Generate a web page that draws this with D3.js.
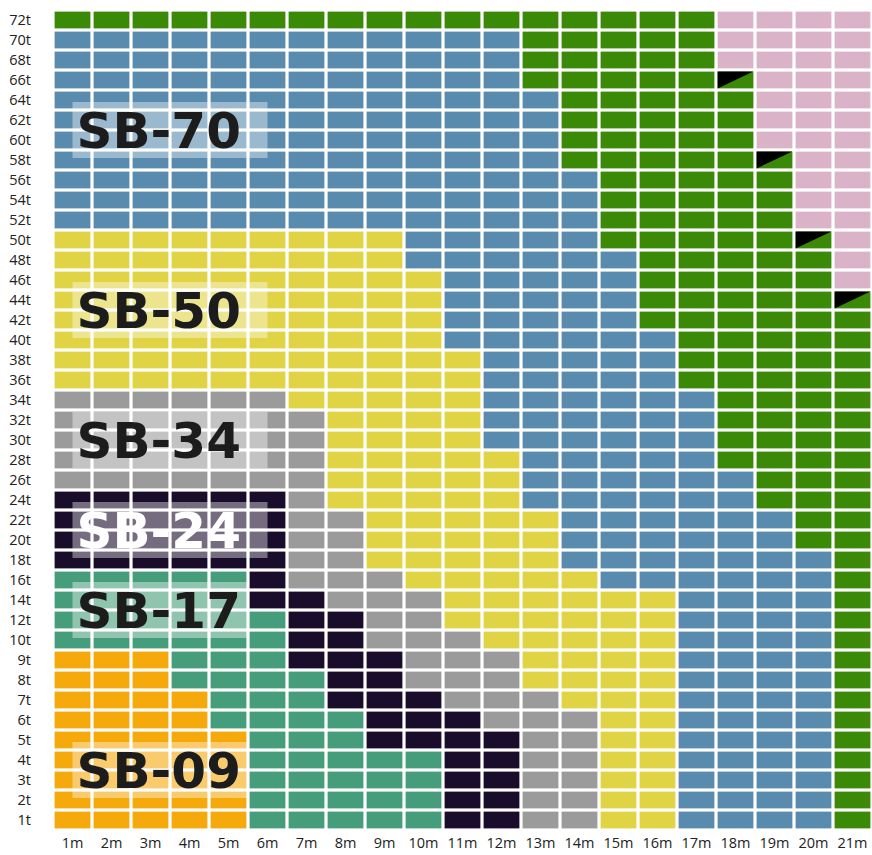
<!DOCTYPE html>
<html>
<head>
<meta charset="utf-8">
<script src="https://cdn.jsdelivr.net/npm/d3@7"></script>
<style>
  body { margin: 0; background: #fff; }
  .tick text { font-family: "Open Sans", sans-serif; font-size: 14.5px; fill: #222; }
</style>
</head>
<body>
<svg id="chart" width="872" height="855"></svg>
<script>
// radius columns and load rows
const radii = ["1m", "2m", "3m", "4m", "5m", "6m", "7m", "8m", "9m", "10m", "11m",
  "12m", "13m", "14m", "15m", "16m", "17m", "18m", "19m", "20m", "21m"];
const loads = ["1t", "2t", "3t", "4t", "5t", "6t", "7t", "8t", "9t", "10t", "12t", "14t",
  "16t", "18t", "20t", "22t", "24t", "26t", "28t", "30t", "32t", "34t", "36t", "38t",
  "40t", "42t", "44t", "46t", "48t", "50t", "52t", "54t", "56t", "58t", "60t", "62t",
  "64t", "66t", "68t", "70t", "72t"];

// max load (t) each model reaches at each radius (0 = none)
const sb09 = [9, 9, 9, 7, 5, 0, 0, 0, 0, 0, 0, 0, 0, 0, 0, 0, 0, 0, 0, 0, 0];
const sb17 = [16, 16, 16, 16, 16, 12, 8, 6, 4, 4, 0, 0, 0, 0, 0, 0, 0, 0, 0, 0, 0];
const sb24 = [24, 24, 24, 24, 24, 24, 14, 12, 9, 7, 6, 5, 0, 0, 0, 0, 0, 0, 0, 0, 0];
const sb34 = [34, 34, 34, 34, 34, 34, 32, 22, 16, 14, 10, 9, 7, 6, 0, 0, 0, 0, 0, 0, 0];
const sb50 = [50, 50, 50, 50, 50, 50, 50, 50, 50, 46, 38, 28, 22, 16, 14, 14, 0, 0, 0, 0, 0];
const sb70 = [70, 70, 70, 70, 70, 70, 70, 70, 70, 70, 70, 70, 64, 56, 48, 40, 34, 26, 22, 18, 0];
const topModel = [72, 72, 72, 72, 72, 72, 72, 72, 72, 72, 72, 72, 72, 72, 72, 72, 72, 66, 58, 50, 44];

// cells with the black corner mark
const flagged = [["18m", "66t"], ["19m", "58t"], ["20m", "50t"], ["21m", "44t"]];

const models = [
  { name: "SB-09", cap: sb09, color: "#f5a90a" },
  { name: "SB-17", cap: sb17, color: "#459d7b" },
  { name: "SB-24", cap: sb24, color: "#1a0d2b" },
  { name: "SB-34", cap: sb34, color: "#9b9b9b" },
  { name: "SB-50", cap: sb50, color: "#e0d444" },
  { name: "SB-70", cap: sb70, color: "#588bad" },
  { name: "", cap: topModel, color: "#3b8a07" }
];
const outOfRange = "#dbb3c9";

const svg = d3.select("#chart");
const x = d3.scaleBand().domain(radii).range([53, 872]);
const y = d3.scaleBand().domain(loads.slice().reverse()).range([10, 830]);

// build the cell table
const cells = [];
radii.forEach((r, i) => {
  loads.forEach((l) => {
    const t = parseFloat(l);
    const m = models.find((d) => d.cap[i] >= t);
    cells.push({ r, l, color: m ? m.color : outOfRange });
  });
});

const gap = 1.6;
svg.append("g")
  .selectAll("rect")
  .data(cells)
  .join("rect")
  .attr("x", (d) => x(d.r) + gap)
  .attr("y", (d) => y(d.l) + gap)
  .attr("width", x.bandwidth() - 2 * gap)
  .attr("height", y.bandwidth() - 2 * gap)
  .attr("fill", (d) => d.color);

// black corner triangles
svg.append("g")
  .selectAll("path")
  .data(flagged)
  .join("path")
  .attr("d", ([r, l]) => {
    const x0 = x(r) + gap, y0 = y(l) + gap;
    const w = x.bandwidth() - 2 * gap, h = y.bandwidth() - 2 * gap;
    return `M${x0},${y0}L${x0 + w},${y0}L${x0},${y0 + h}Z`;
  })
  .attr("fill", "#000");

// axes
svg.append("g")
  .attr("transform", "translate(53,0)")
  .call(d3.axisLeft(y).tickSize(0).tickPadding(22))
  .call((g) => g.select(".domain").remove());

svg.append("g")
  .attr("transform", "translate(0,830)")
  .call(d3.axisBottom(x).tickSize(0).tickPadding(8))
  .call((g) => g.select(".domain").remove());

// model labels: [name, right-edge column, rows the box is centred between]
const labelSpots = [
  ["SB-70", "6m", "62t", "60t"],
  ["SB-50", "6m", "44t", "42t"],
  ["SB-34", "6m", "30t", "30t"],
  ["SB-24", "6m", "22t", "20t"],
  ["SB-17", "5m", "14t", "12t"],
  ["SB-09", "5m", "4t", "3t"]
];

const lab = svg.append("g");
labelSpots.forEach(([name, rightCol, rowA, rowB]) => {
  const cy = (y(rowA) + y(rowB) + y.bandwidth()) / 2;
  const x0 = x("1m") + x.bandwidth() / 2;
  const x1 = rightCol === "6m" ? x("6m") + x.bandwidth() / 2 : x(rightCol) + x.bandwidth() - 1;
  lab.append("rect")
    .attr("x", x0)
    .attr("y", cy - 28)
    .attr("width", x1 - x0)
    .attr("height", 56)
    .attr("fill", "#fff")
    .attr("fill-opacity", 0.4);
  lab.append("text")
    .attr("x", x0 + 4)
    .attr("y", cy + 18)
    .attr("font-family", "DejaVu Sans, sans-serif")
    .attr("font-weight", "bold")
    .attr("font-size", 50)
    .attr("fill", name === "SB-24" ? "#fff" : "#1c1c1c")
    .text(name);
});
</script>
</body>
</html>
